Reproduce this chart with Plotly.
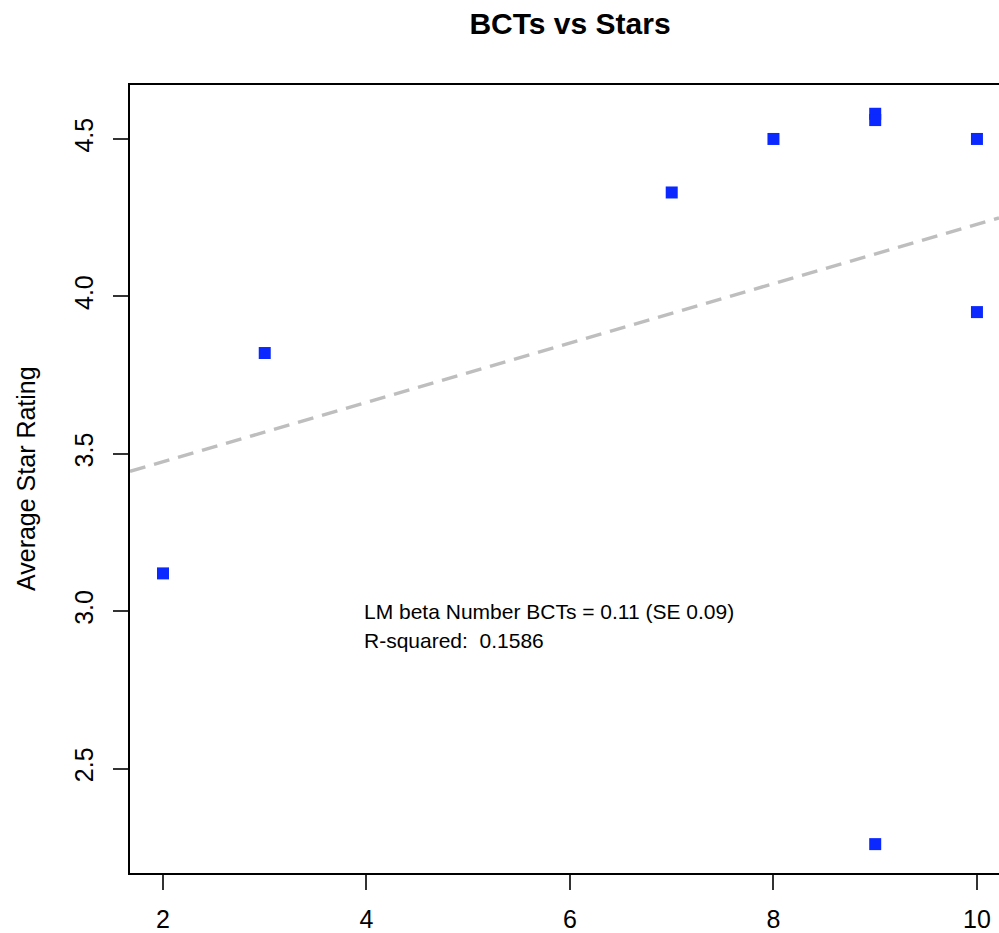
import plotly.graph_objects as go

# Number of behaviour change techniques (BCTs) per app and its average star rating
bcts = [2, 3, 7, 8, 9, 9, 9, 10, 10]
stars = [3.12, 3.82, 4.33, 4.50, 4.58, 4.56, 2.26, 4.50, 3.95]

# Fitted linear trend (intercept, slope) drawn as an abline across the panel
fit_intercept = 3.286
fit_slope = 0.0943

stat_lines = ["LM beta Number BCTs = 0.11 (SE 0.09)", "R-squared:  0.1586"]
x_ticks = [2, 4, 6, 8, 10]
y_ticks = [2.5, 3.0, 3.5, 4.0, 4.5]

x_range = [1.6757, 10.2167]
y_range = [2.1683, 4.6714]

FONT = "Liberation Sans, Arial, Helvetica, sans-serif"

fig = go.Figure()

line_x = list(x_range)
line_y = [fit_intercept + fit_slope * v for v in line_x]
fig.add_trace(go.Scatter(
    x=line_x, y=line_y, mode="lines",
    line=dict(color="#bebebe", width=3.5, dash="16px,9px"),
    hoverinfo="skip", showlegend=False,
))

fig.add_trace(go.Scatter(
    x=bcts, y=stars, mode="markers",
    marker=dict(symbol="square", size=12, color="#0a28ff", line=dict(width=0)),
    showlegend=False,
))

for i, txt in enumerate(stat_lines):
    fig.add_annotation(
        x=3.956, y=[3.0, 2.908][i], xref="x", yref="y",
        text=txt, showarrow=False, xanchor="left", yanchor="middle",
        font=dict(family=FONT, size=21, color="black"),
    )

# y axis title, placed to the left of the rotated tick labels
fig.add_annotation(
    x=-104 / 869, y=0.5, xref="paper", yref="paper",
    text="Average Star Rating", textangle=-90, showarrow=False,
    xanchor="center", yanchor="middle",
    font=dict(family=FONT, size=25, color="black"),
)

fig.update_layout(
    width=999, height=933,
    margin=dict(l=130, r=0, t=85, b=60, autoexpand=False),
    paper_bgcolor="white", plot_bgcolor="white",
    title=dict(
        text="<b>BCTs vs Stars</b>", x=570 / 999, xanchor="center",
        y=1 - 23 / 933, yanchor="middle", yref="container",
        font=dict(family=FONT, size=30, color="black"),
    ),
    hovermode=False,
)

fig.update_xaxes(
    range=x_range, tickvals=x_ticks, ticktext=[str(v) for v in x_ticks],
    showgrid=False, zeroline=False,
    showline=True, mirror=True, linecolor="black", linewidth=1.5,
    ticks="outside", ticklen=15, tickwidth=1.5, tickcolor="#333",
    tickfont=dict(family=FONT, size=25, color="black"),
    ticklabelstandoff=8, automargin=False,
)
fig.update_yaxes(
    range=y_range, tickvals=y_ticks, ticktext=[f"{v:.1f}" for v in y_ticks],
    showgrid=False, zeroline=False,
    showline=True, mirror=False, linecolor="black", linewidth=1.5,
    ticks="outside", ticklen=15, tickwidth=1.5, tickcolor="#333",
    tickangle=-90,
    tickfont=dict(family=FONT, size=25, color="black"),
    ticklabelstandoff=10, automargin=False,
)

fig.write_html("out.html", config={"displayModeBar": False})
